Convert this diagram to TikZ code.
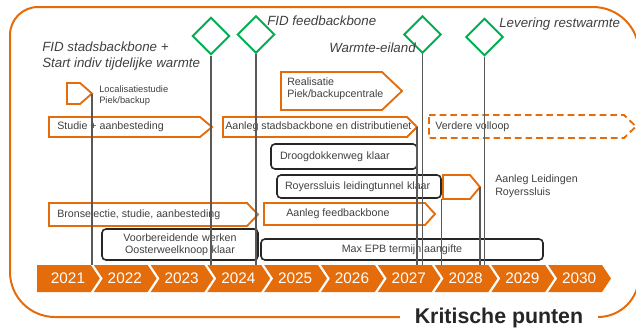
\documentclass[tikz,border=0pt]{standalone}
\usepackage{fontspec}
\setmainfont{Liberation Sans}
\usetikzlibrary{shapes.geometric}

\definecolor{kporange}{HTML}{E46C0A}
\definecolor{kpgreen}{HTML}{00B050}
\definecolor{kpgray}{HTML}{595959}
\definecolor{kptext}{HTML}{404040}
\definecolor{kpblack}{HTML}{262626}

% chevron: [options]{tip name}{left}{body end}{tip}{top}{bottom}
\newcommand{\chevbox}[7][]{%
  \draw[chevline,#1] (#3,#6) -- (#4,#6) -- (#5,{(#6+#7)/2}) coordinate (#2)
    -- (#4,#7) -- (#3,#7) -- cycle;}

\tikzset{
  frame/.style={kporange, line width=1.5pt},
  chevline/.style={kporange, line width=1.4pt, line join=miter},
  stem/.style={kpgray, line width=0.9pt},
  milestone/.style={diamond, draw=kpgreen, line width=1.5pt, fill=white,
    minimum width=28pt, minimum height=28pt, inner sep=0pt},
  milelabel/.style={font=\itshape\fontsize{10}{12}\selectfont, text=kptext,
    inner sep=0pt, align=left},
  tasktext/.style={font=\fontsize{8}{9}\selectfont, text=kptext,
    inner sep=0pt, anchor=west, align=left},
  blackbox/.style={draw=kpblack, line width=1.2pt, rounded corners=3pt,
    font=\fontsize{8}{9}\selectfont, text=kptext, inner ysep=1pt},
  yeartext/.style={text=white, font=\fontsize{11.5}{13}\selectfont}
}

\begin{document}
\begin{tikzpicture}[x=0.75pt, y=-0.75pt]
  \useasboundingbox (0,0) rectangle (636,329);
  \clip (0,0) rectangle (636,329);

  % frame
  \draw[frame] (10,150) [rounded corners=21pt] -- (10,7) -- (300,7)
    [rounded corners=34.5pt] -- (639,7) -- (639,160)
    [rounded corners=30.75pt] -- (639,317) -- (300,317)
    [rounded corners=33.75pt] -- (10,317) -- cycle;

  \coordinate (bar) at (0,265);

  % years
  \foreach \yr [count=\i from 0] in {2021,...,2030}{
    \pgfmathsetmacro{\xa}{37+56.8*\i}
    \pgfmathsetmacro{\notch}{\i==0 ? 0 : 9}
    \fill[kporange] (\xa,265) -- ({\xa+53.8},265) -- ({\xa+62.8},278.5)
      -- ({\xa+53.8},292) -- (\xa,292) -- ({\xa+\notch},278.5) -- cycle;
    \node[yeartext] (y\yr) at ({\xa+31},278.5) {\yr};
  }

  % milestones
  \node[milestone] (d1) at (211,36) {};
  \node[milestone] (d2) at (256,34.5) {};
  \node[milestone] (d3) at (422.5,34.5) {};
  \node[milestone] (d4) at (484.5,37) {};

  \node[milelabel, anchor=west] (fidstad) at (42,56)
    {FID stadsbackbone +\\Start indiv tijdelijke warmte};
  \node[milelabel, anchor=west] (fidfeed) at (267,21) {FID feedbackbone};
  \node[milelabel, anchor=east] (warmte) at (416,48) {Warmte-eiland};
  \node[milelabel, anchor=west] (levering) at (499,24) {Levering restwarmte};

  % orange tasks
  \chevbox{loctip}{67}{80}{92}{83}{104}
  \node[tasktext, font=\fontsize{7}{8.3}\selectfont] (loc) at (99,95.5)
    {Localisatiestudie\\Piek/backup};

  \chevbox{studietip}{49}{200}{212}{117}{137}
  \node[tasktext] (studie) at (57,127) {Studie + aanbesteding};

  \chevbox{stadstip}{223}{407}{417}{117}{137}
  \node[tasktext] (stads) at (225,127) {Aanleg stadsbackbone en distributienet};

  \chevbox{realtip}{281}{382}{402}{72}{110}
  \node[tasktext] (real) at (287,89) {Realisatie\\Piek/backupcentrale};

  \chevbox[dashed, dash pattern=on 5pt off 3pt]{verdtip}{429}{624}{636}{115}{138}
  \node[tasktext] (verd) at (435,126.5) {Verdere volloop};

  \chevbox{leidtip}{443}{470}{480}{175}{199}
  \node[tasktext, font=\fontsize{8}{9.75}\selectfont] (leid) at (495,186.5)
    {Aanleg Leidingen\\Royerssluis};

  \chevbox{brontip}{49}{247}{258}{203}{226}
  \node[tasktext] (bron) at (57,214.5) {Bronselectie, studie, aanbesteding};

  \chevbox{feedtip}{264}{425}{435}{203}{225}
  \node[tasktext] (feed) at (286,214) {Aanleg feedbackbone};

  % black boxes
  \node[blackbox, text width=96pt, inner xsep=6.75pt, minimum height=18.75pt,
    align=left] (droog) at (344,156.5) {Droogdokkenweg klaar};
  \node[blackbox, text width=111pt, inner xsep=6pt, minimum height=17.25pt,
    align=left] (royers) at (359,186.5) {Royerssluis leidingtunnel klaar};
  \node[blackbox, text width=111pt, inner xsep=3pt, minimum height=23.25pt,
    align=center] (voorb) at (180,244.5)
    {Voorbereidende werken\\Oosterweelknoop klaar};
  \node[blackbox, minimum width=211.5pt, minimum height=15.75pt,
    align=center] (maxepb) at (402,249.5) {Max EPB termijn aangifte};

  % stems
  \draw[stem] (loctip) -- (loctip |- bar);
  \draw[stem] (d1.south) -- (d1.south |- bar);
  \draw[stem] (d2.south) -- (d2.south |- bar);
  \draw[stem] (stadstip) -- (stadstip |- bar);
  \draw[stem] (d3.south) -- (d3.south |- bar);
  \draw[stem] (royers.south east) -- (royers.south east |- bar);
  \draw[stem] (leidtip) -- (leidtip |- bar);
  \draw[stem] (d4.south) -- (d4.south |- bar);

  \node[fill=white, inner xsep=11pt, inner ysep=2pt, text=kpblack,
    font=\bfseries\fontsize{16}{18}\selectfont] (kritisch) at (499,318)
    {Kritische punten};
\end{tikzpicture}
\end{document}
